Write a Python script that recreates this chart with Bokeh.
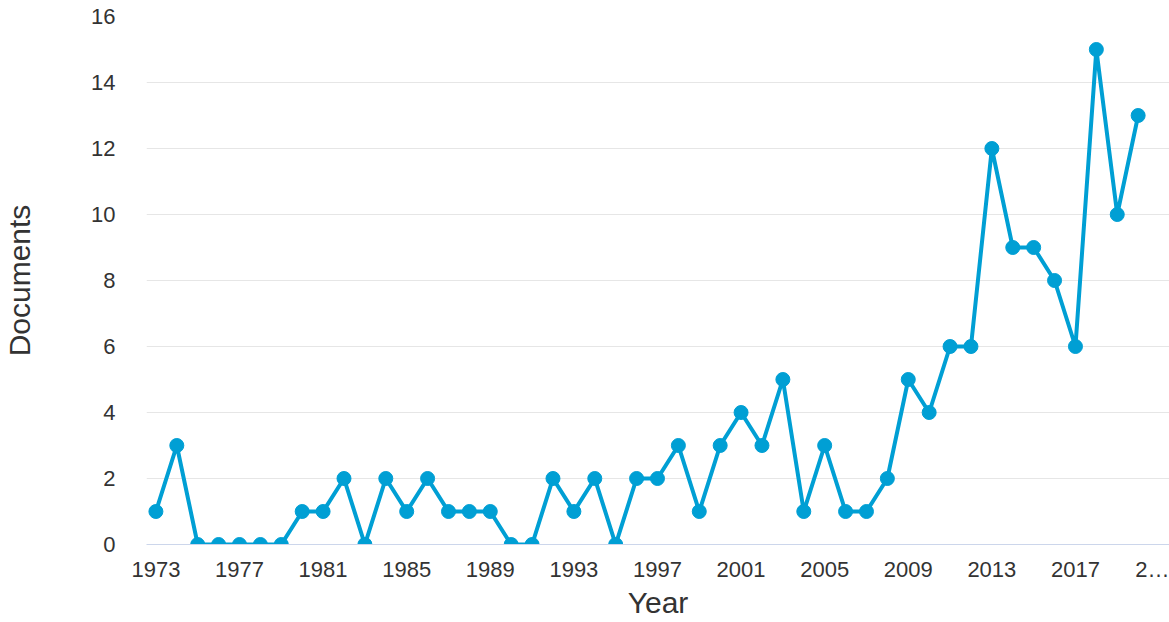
from bokeh.plotting import figure
from bokeh.models import FixedTicker, Range1d
from bokeh.embed import file_html
from bokeh.resources import INLINE

years = list(range(1973, 2021))
documents = [1, 3, 0, 0, 0, 0, 0,
             1, 1, 2, 0, 2, 1, 2, 1, 1, 1,
             0, 0, 2, 1, 2, 0, 2, 2, 3, 1,
             3, 4, 3, 5, 1, 3, 1, 1, 2, 5,
             4, 6, 6, 12, 9, 9, 8, 6, 15, 10, 13]
x_ticks = list(range(1973, 2022, 4))
x_tick_labels = {t: str(t) for t in x_ticks}
x_tick_labels[2021] = "2…"
y_ticks = list(range(0, 17, 2))

FONT = "Liberation Sans"
COLOR = "#009fd4"

p = figure(width=1169, height=622, output_backend="svg", toolbar_location=None,
           x_range=Range1d(1972.55, 2021.5), y_range=Range1d(0, 16),
           min_border_left=144, min_border_top=16, min_border_right=0, min_border_bottom=78)
p.outline_line_color = None
p.background_fill_color = "white"

p.line(years, documents, line_color=COLOR, line_width=4)
p.scatter(years, documents, size=14, fill_color=COLOR, line_color=COLOR)

p.xgrid.grid_line_color = None
p.ygrid.grid_line_color = "#e6e6e6"
p.ygrid.grid_line_width = 1

p.xaxis.ticker = FixedTicker(ticks=x_ticks)
p.xaxis.major_label_overrides = x_tick_labels
p.yaxis.ticker = FixedTicker(ticks=y_ticks)

for ax in (p.xaxis, p.yaxis):
    ax.major_tick_line_color = None
    ax.minor_tick_line_color = None
    ax.major_label_text_font = FONT
    ax.major_label_text_font_size = "22px"
    ax.major_label_text_color = "#333333"
    ax.axis_label_text_font = FONT
    ax.axis_label_text_font_size = "30px"
    ax.axis_label_text_font_style = "normal"
    ax.axis_label_text_color = "#333333"

p.xaxis.axis_label = "Year"
p.xaxis.axis_line_color = "#ccd6eb"
p.xaxis.axis_line_width = 1
p.xaxis.major_label_standoff = 6
p.xaxis.axis_label_standoff = 1

p.yaxis.axis_label = "Documents"
p.yaxis.axis_line_color = None
p.yaxis.major_label_standoff = 25
p.yaxis.axis_label_standoff = 52

open("out.html", "w").write(file_html(p, INLINE))
